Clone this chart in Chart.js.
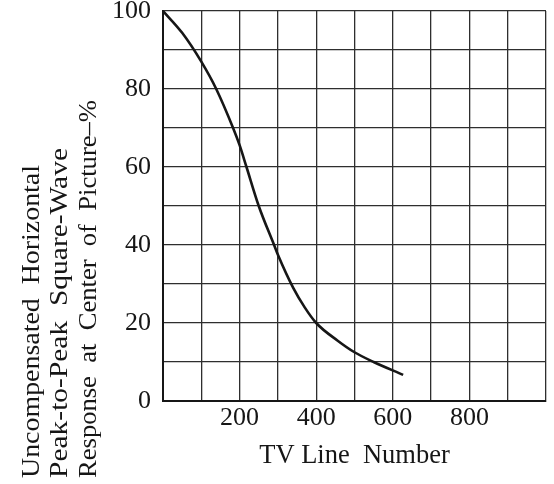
<!DOCTYPE html>
<html>
<head>
<meta charset="utf-8">
<script src="https://cdn.jsdelivr.net/npm/chart.js@4/dist/chart.umd.min.js"></script>
<style>
  html, body { margin: 0; padding: 0; background: #fff; }
  #wrap { width: 554px; height: 484px; }
</style>
</head>
<body>
<div id="wrap"><canvas id="myChart" width="554" height="484"></canvas></div>
<script>
// values
const lineNumbers = [0, 50, 100, 139, 183, 200, 218, 250, 290, 300, 340, 370, 400, 457, 500, 550, 627];
const responsePct = [100, 94.4, 87, 80, 70, 65.6, 60, 50, 40, 37.5, 29, 24, 20, 15.4, 12.5, 10, 6.7];
const xTickLabels = [200, 400, 600, 800];
const yTickLabels = [0, 20, 40, 60, 80, 100];
const yTitleLines = ['Uncompensated  Horizontal', 'Peak-to-Peak  Square-Wave', 'Response  at  Center  of  Picture\u2013%'];
const xTitle = 'TV Line  Number';

const serif = '"Liberation Serif", "DejaVu Serif", serif';
const ink = '#161616';

// rotated three-line y title, reads bottom to top
const yTitlePlugin = {
    id: 'yTitle',
    afterDraw(chart) {
        const ctx = chart.ctx;
        const widths = [313, 330, 378];
        const baselines = [39, 67, 96];
        ctx.save();
        ctx.fillStyle = ink;
        ctx.font = '26px ' + serif;
        ctx.textAlign = 'left';
        ctx.textBaseline = 'alphabetic';
        yTitleLines.forEach((t, i) => {
            ctx.save();
            ctx.translate(baselines[i], 478);
            ctx.rotate(-Math.PI / 2);
            const w = ctx.measureText(t).width;
            ctx.scale(widths[i] / w, 1);
            ctx.fillText(t, 0, 0);
            ctx.restore();
        });
        ctx.restore();
    }
};

const ctx = document.getElementById('myChart').getContext('2d');
const chart = new Chart(ctx, {
    type: 'line',
    data: {
        datasets: [{
            data: lineNumbers.map((x, i) => ({ x: x, y: responsePct[i] })),
            borderColor: ink,
            borderWidth: 2.6,
            pointRadius: 0,
            cubicInterpolationMode: 'monotone',
            fill: false
        }]
    },
    options: {
        responsive: false,
        animation: false,
        layout: { padding: { left: 100, right: 8, top: 11, bottom: 12 } },
        plugins: {
            legend: { display: false },
            tooltip: { enabled: false }
        },
        scales: {
            x: {
                type: 'linear',
                min: 0,
                max: 1000,
                border: { color: ink, width: 2 },
                grid: { color: '#2e2e2e', lineWidth: 1.3, drawTicks: false },
                ticks: {
                    stepSize: 100,
                    padding: 2,
                    color: ink,
                    font: { family: serif, size: 26 },
                    maxRotation: 0,
                    autoSkip: false,
                    callback: v => xTickLabels.includes(v) ? String(v) : ''
                },
                title: {
                    display: true,
                    text: xTitle,
                    color: ink,
                    font: { family: serif, size: 26.5 },
                    padding: { top: 4, bottom: 0 }
                }
            },
            y: {
                min: 0,
                max: 100,
                afterFit: s => { s.paddingTop = 0; },
                border: { color: ink, width: 2 },
                grid: { color: '#2e2e2e', lineWidth: 1.3, drawTicks: false },
                ticks: {
                    stepSize: 10,
                    padding: 12,
                    color: ink,
                    font: { family: serif, size: 26 },
                    autoSkip: false,
                    callback: v => yTickLabels.includes(v) ? String(v) : ''
                }
            }
        }
    },
    plugins: [yTitlePlugin]
});
</script>
</body>
</html>
